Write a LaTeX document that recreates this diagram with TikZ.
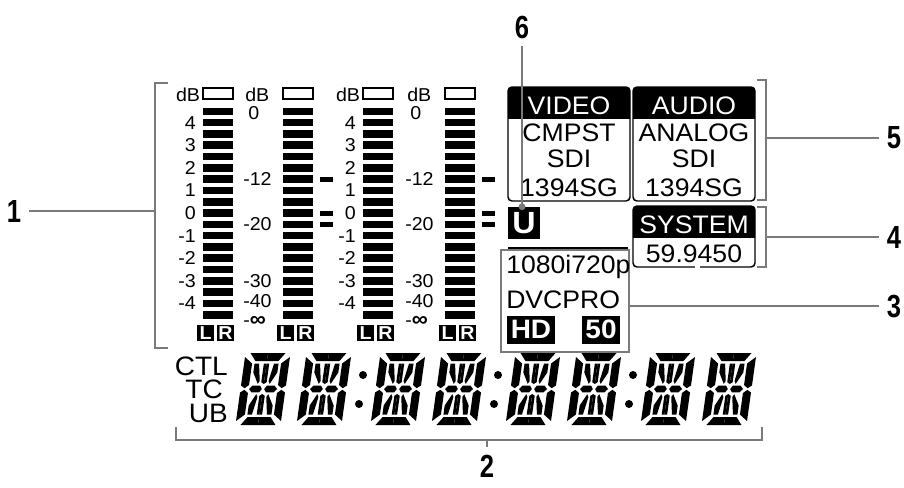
\documentclass[tikz,border=0pt]{standalone}
\usepackage{fontspec}
\setmainfont{Liberation Sans}
\newfontfamily\lcdfont[FakeStretch=1.05]{Liberation Sans}
\newfontfamily\calloutfont[FakeStretch=0.8]{Liberation Sans}
\usetikzlibrary{calc}
\definecolor{leadcol}{RGB}{122,122,122}
\tikzset{
  lead/.style={draw=leadcol,line width=2.2pt},
  callout/.style={font=\calloutfont\bfseries\fontsize{24}{24}\selectfont,inner sep=0pt,outer sep=6pt},
  mlab/.style={font=\lcdfont\fontsize{14}{14}\selectfont,inner sep=0pt},
  boxtxt/.style={font=\lcdfont\fontsize{19}{19}\selectfont,inner sep=0pt,anchor=base},
  tclab/.style={font=\lcdfont\fontsize{20}{20}\selectfont,inner sep=0pt,text height=14.5pt,text depth=0pt,anchor=base east},
  lrbox/.style={fill=black,text=white,font=\lcdfont\bfseries\fontsize{14}{14}\selectfont,minimum width=12.5pt,minimum height=12.5pt,inner sep=0pt},
  invbox/.style={fill=black,text=white,font=\lcdfont\bfseries\fontsize{20}{20}\selectfont,inner xsep=2.5pt,inner ysep=0pt,minimum height=21pt},
  pics/lcddigit/.style={code={
    \begin{scope}[xslant=0.14]
    \foreach \sx/\sy in {1/1,-1/1,1/-1,-1/-1}{
      \begin{scope}[xscale=\sx,yscale=\sy]
        \fill (-17.5,-36) -- (0,-36) -- (0,-28) -- (-11.5,-28) -- cycle;
        \fill (-22.5,-32) -- (-14.5,-25.5) -- (-14.5,-4) -- (-18.5,-0.8) -- (-22.5,-3.5) -- cycle;
        \fill (-14,0) -- (-11,-3.4) -- (-3.4,-3.4) -- (-1.2,0) -- cycle;
        \fill (-2.7,-25.5) -- (0,-25.5) -- (0,-5) -- (-2.7,-6.8) -- cycle;
        \fill (-12,-25.5) -- (-7.5,-25.5) -- (-4.4,-8) -- (-6,-5.2) -- (-12,-16.5) -- cycle;
      \end{scope}}
    \end{scope}}}
}
\begin{document}
\begin{tikzpicture}[x=0.75pt,y=-0.75pt]
  \useasboundingbox (0,0) rectangle (904,487);
  % level meters
  \foreach \mx [count=\m] in {203,283,363,445}{
    \draw[line width=1pt] (\mx,88) rectangle ++(30,11);
    \foreach \i in {0,...,18} \fill (\mx,{107.5+11.3*\i}) rectangle ++(30,7.6);
    \node[lrbox] (L\m) at (\mx+2.5,333) {L};
    \node[lrbox] (R\m) at (\mx+22.5,333) {R};
  }
  \foreach \mx [count=\m] in {203,363}{
    \node[mlab] (db\m) at (\mx-15,95) {dB};
    \foreach \v [count=\c] in {4,3,2,1,0,-1,-2,-3,-4}
      \node[mlab,anchor=east] (sc\m-\c) at (\mx-7,{111.3+11.3*(2*\c-1)}) {\v};
  }
  \foreach \mx [count=\m] in {283,445}{
    \node[mlab,anchor=west] (dbfs\m) at (\mx-38,95) {dB};
    \node[mlab,anchor=west] (top\m) at (\mx-35,113) {0};
    \foreach \v/\yy [count=\c] in {-12/179,-20/224.5,-30/281,-40/301}
      \node[mlab,anchor=west] (fs\m-\c) at (\mx-40,\yy) {\v};
    \node[mlab,anchor=west] (inf\m) at (\mx-40,321) {-{\bfseries\fontsize{16}{16}\selectfont ∞}};
    \fill (\mx+37,176.5) rectangle ++(13,5);
    \fill (\mx+37,210.5) rectangle ++(13,5);
    \fill (\mx+37,222) rectangle ++(13,5);
  }
  % time code
  \node[tclab] (ctl) at (228,375) {CTL};
  \node[tclab] (tc) at (223,398) {TC};
  \node[tclab] (ub) at (228,422) {UB};
  \foreach \g in {0,...,3} \foreach \p in {0,1} \pic at ({263+135*\g+61*\p},389) {lcddigit};
  \foreach \cx in {361,496,631}{\fill (\cx+2,375) circle (3pt); \fill (\cx-2,404) circle (3pt);}
  % video / audio
  \foreach \bx/\hd/\ta/\tb/\tc [count=\k] in {508/VIDEO/CMPST/SDI/1394SG,633/AUDIO/ANALOG/SDI/1394SG}{
    \begin{scope}
      \clip (\bx-2,80) rectangle (\bx+124,118);
      \fill[rounded corners=3pt] (\bx,87) rectangle (\bx+122,201);
    \end{scope}
    \draw[line width=1.1pt,rounded corners=3pt] (\bx,87) rectangle (\bx+122,201);
    \node[boxtxt,text=white] (hd\k) at (\bx+61,114) {\hd};
    \node[boxtxt] (la\k) at (\bx+61,141) {\ta};
    \node[boxtxt] (lb\k) at (\bx+61,167) {\tb};
    \node[boxtxt] (lc\k) at (\bx+61,196) {\tc};
  }
  % system
  \begin{scope}
    \clip (631,200) rectangle (757,237);
    \fill[rounded corners=3pt] (633,206) rectangle (755,267);
  \end{scope}
  \draw[line width=1.1pt,rounded corners=3pt] (633,206) rectangle (755,267);
  \fill[white] (695,264) rectangle (700,270);
  \node[boxtxt,text=white] (sys) at (694,233) {SYSTEM};
  \node[boxtxt] (freq) at (694,262) {59.9450};
  % format
  \node[fill=black,text=white,font=\lcdfont\bfseries\fontsize{23}{23}\selectfont,minimum size=24pt,inner sep=0pt] (ubox) at (524,223) {U};
  \draw[line width=1.5pt] (508,248) -- (628,248);
  \node[draw=leadcol,line width=1.8pt,minimum width=96pt,minimum height=76.5pt,inner sep=0pt] (fmtbox) at (565,301) {};
  \node[boxtxt,anchor=base west] (fmt1) at (506,273) {1080i720p};
  \node[boxtxt,anchor=base west] (fmt2) at (506,308) {DVCPRO};
  \node[invbox] (hd) at (531,329.5) {HD};
  \node[invbox] (fifty) at (601,329.5) {50};
  % callouts
  \node[callout] (c1) at (14,211) {1};
  \node[callout] (c2) at (487,466) {2};
  \node[callout] (c3) at (894,306) {3};
  \node[callout] (c4) at (894,237) {4};
  \node[callout] (c5) at (894,138) {5};
  \node[callout] (c6) at (522,27) {6};
  \coordinate (b1) at (155,211);
  \coordinate (b2) at (487,440);
  \coordinate (b4) at (766,237);
  \coordinate (b5) at (766,138);
  \draw[lead] (168,83) -- (155,83) -- (155,348) -- (168,348);
  \draw[lead] (176,427) -- (176,440) -- (762,440) -- (762,427);
  \draw[lead] (757,80) -- (766,80) -- (766,200) -- (757,200);
  \draw[lead] (757,207) -- (766,207) -- (766,267) -- (757,267);
  \draw[lead] (c1) -- (b1);
  \draw[lead] (b2) -- (c2);
  \draw[lead] (fmtbox.east |- c3) -- (c3);
  \draw[lead] (b4) -- (c4);
  \draw[lead] (b5) -- (c5);
  \draw[lead] (c6) -- (c6 |- ubox.north);
  \fill[leadcol] (c6 |- ubox.north) circle (2.6pt);
\end{tikzpicture}
\end{document}
